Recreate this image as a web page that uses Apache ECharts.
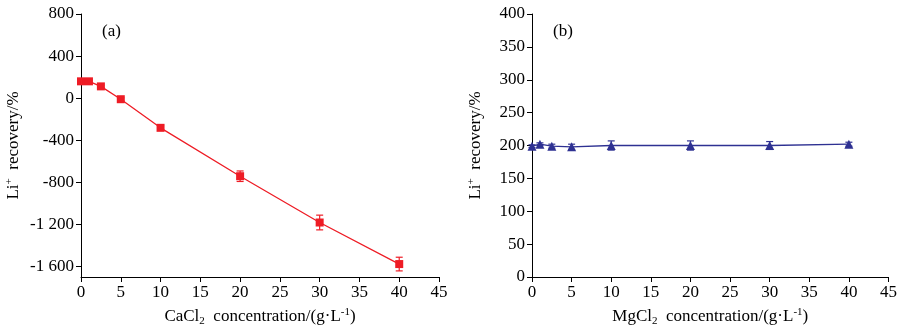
<!DOCTYPE html>
<html>
<head>
<meta charset="utf-8">
<script src="https://cdn.jsdelivr.net/npm/echarts@6/dist/echarts.min.js"></script>
<style>html,body{margin:0;padding:0;background:#fff;}#c{width:900px;height:332px;}</style>
</head>
<body>
<div id="c"></div>
<script>
const concA = [0, 1, 2.5, 5, 10, 20, 30, 40];
const recoveryA = [160, 160, 112, -10, -282, -742, -1182, -1577];
const errA = [10, 10, 12, 14, 22, 50, 70, 65];
const concB = [0, 1, 2.5, 5, 10, 20, 30, 40];
const recoveryB = [199, 202, 199, 198, 200, 200, 200, 202];
const errB = [2, 2, 3, 4, 7, 7, 6, 3];
const xTicks = [0, 5, 10, 15, 20, 25, 30, 35, 40, 45];
const yTicksA = [-1600, -1200, -800, -400, 0, 400, 800];
const yTicksB = [0, 50, 100, 150, 200, 250, 300, 350, 400];

const FONT = '"Liberation Serif","DejaVu Serif",serif';
const FS = 17;
const RED = '#ee1c25';
const BLUE = '#2e3192';

function fmtNum(v) {
  const s = String(Math.abs(v));
  const t = s.length > 3 ? s.slice(0, s.length - 3) + ' ' + s.slice(-3) : s;
  return (v < 0 ? '-' : '') + t;
}

const axisLineStyle = { show: true, onZero: false, lineStyle: { color: '#000', width: 1 } };
const tickStyle = { show: true, inside: false, length: 5, lineStyle: { color: '#000' } };
const labelStyle = { color: '#000', fontFamily: FONT, fontSize: FS };
const nameRich = {
  sup: { fontFamily: FONT, fontSize: 11, color: '#000', verticalAlign: 'top', padding: [0, 0, 9, 0] },
  sub: { fontFamily: FONT, fontSize: 11, color: '#000', padding: [9, 0, 0, 0] }
};

function xAxis(gridIndex, name) {
  return {
    type: 'value', gridIndex, min: 0, max: 45, interval: 5,
    axisLine: axisLineStyle,
    axisTick: Object.assign({ customValues: xTicks }, tickStyle),
    splitLine: { show: false },
    axisLabel: Object.assign({ margin: 7, customValues: xTicks }, labelStyle),
    name, nameLocation: 'middle', nameGap: 30,
    nameTextStyle: { color: '#000', fontFamily: FONT, fontSize: FS, rich: nameRich }
  };
}

function yAxis(gridIndex, min, max, ticks, gap) {
  return {
    type: 'value', gridIndex, min, max,
    axisLine: axisLineStyle,
    axisTick: Object.assign({ customValues: ticks }, tickStyle),
    splitLine: { show: false },
    axisLabel: Object.assign({ margin: 7, customValues: ticks, formatter: fmtNum }, labelStyle),
    name: 'Li{sup|+}  recovery/%', nameLocation: 'middle', nameGap: gap, nameRotate: 90,
    nameTextStyle: { color: '#000', fontFamily: FONT, fontSize: FS, rich: nameRich }
  };
}

function errSeries(idx, xs, ys, es, color) {
  return {
    type: 'custom', xAxisIndex: idx, yAxisIndex: idx, z: 1,
    data: xs.map((x, i) => [x, ys[i] - es[i], ys[i] + es[i]]),
    renderItem: function (params, api) {
      const lo = api.coord([api.value(0), api.value(1)]);
      const hi = api.coord([api.value(0), api.value(2)]);
      const w = 3.5;
      const st = { stroke: color, lineWidth: 1.2 };
      return { type: 'group', children: [
        { type: 'line', shape: { x1: lo[0], y1: lo[1], x2: hi[0], y2: hi[1] }, style: st },
        { type: 'line', shape: { x1: lo[0] - w, y1: lo[1], x2: lo[0] + w, y2: lo[1] }, style: st },
        { type: 'line', shape: { x1: hi[0] - w, y1: hi[1], x2: hi[0] + w, y2: hi[1] }, style: st }
      ]};
    }
  };
}

const chart = echarts.init(document.getElementById('c'), null, { renderer: 'canvas' });
chart.setOption({
  animation: false,
  backgroundColor: '#fff',
  grid: [
    { left: 81, right: 461, top: 14, bottom: 52 },
    { left: 532, right: 10, top: 14, bottom: 52 }
  ],
  xAxis: [
    xAxis(0, 'CaCl{sub|2}  concentration/(g·L{sup|-1})'),
    xAxis(1, 'MgCl{sub|2}  concentration/(g·L{sup|-1})')
  ],
  yAxis: [
    yAxis(0, -1700, 800, yTicksA, 57),
    yAxis(1, 0, 400, yTicksB, 46)
  ],
  graphic: [
    { type: 'text', left: 102, top: 23, style: { text: '(a)', font: FS + 'px ' + FONT, fill: '#000' } },
    { type: 'text', left: 553, top: 23, style: { text: '(b)', font: FS + 'px ' + FONT, fill: '#000' } }
  ],
  series: [
    errSeries(0, concA, recoveryA, errA, RED),
    {
      type: 'line', xAxisIndex: 0, yAxisIndex: 0, z: 2,
      data: concA.map((x, i) => [x, recoveryA[i]]),
      symbol: 'rect', symbolSize: 8,
      lineStyle: { color: RED, width: 1.3 }, itemStyle: { color: RED }
    },
    errSeries(1, concB, recoveryB, errB, BLUE),
    {
      type: 'line', xAxisIndex: 1, yAxisIndex: 1, z: 2,
      data: concB.map((x, i) => [x, recoveryB[i]]),
      symbol: 'triangle', symbolSize: 9,
      lineStyle: { color: BLUE, width: 1.3 }, itemStyle: { color: BLUE }
    }
  ]
});
</script>
</body>
</html>
